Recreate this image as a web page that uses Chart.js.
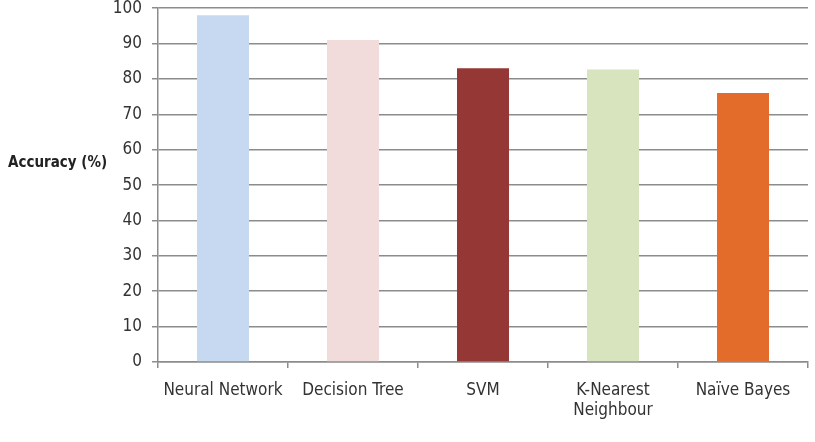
<!DOCTYPE html>
<html>
<head>
<meta charset="utf-8">
<script src="https://cdn.jsdelivr.net/npm/chart.js@4"></script>
<style>
  html, body { margin: 0; padding: 0; background: #fff; overflow: hidden; }
  #wrap { width: 815px; height: 442px; overflow: hidden; position: relative; }
  #accChart { position: absolute; left: 0; top: -12px; }
</style>
</head>
<body>
<div id="wrap"><canvas id="accChart" width="815" height="454"></canvas></div>
<script>
const categories = ['Neural Network', 'Decision Tree', 'SVM', ['K-Nearest', 'Neighbour'], 'Naïve Bayes'];
const accuracy = [98, 91, 83, 82.7, 76];
const barColors = ['#c6d9f1', '#f2dcdb', '#953735', '#d7e4bd', '#e46c2a'];
const yTicks = [0, 10, 20, 30, 40, 50, 60, 70, 80, 90, 100];

const fontFamily = '"Liberation Sans Narrow", "DejaVu Sans Condensed", "Open Sans", sans-serif';

// horizontal y-axis title on the left, like the original
const sideLabel = {
    id: 'sideLabel',
    afterDraw(chart) {
        const ctx = chart.ctx;
        const area = chart.chartArea;
        ctx.save();
        ctx.font = 'bold 15px ' + fontFamily;
        ctx.fillStyle = '#222';
        ctx.textBaseline = 'middle';
        ctx.textAlign = 'left';
        ctx.fillText('Accuracy (%)', 8, area.top + (area.bottom - area.top) * 0.438);
        ctx.restore();
    }
};

new Chart(document.getElementById('accChart'), {
    type: 'bar',
    data: {
        labels: categories,
        datasets: [{
            data: accuracy,
            backgroundColor: barColors,
            borderWidth: 0,
            categoryPercentage: 1,
            barPercentage: 0.4
        }]
    },
    options: {
        responsive: false,
        animation: false,
        layout: { padding: { top: 7, right: 7, left: 0, bottom: 0 } },
        plugins: {
            legend: { display: false },
            tooltip: { enabled: false }
        },
        scales: {
            x: {
                offset: true,
                grid: { drawOnChartArea: false, tickLength: 6, color: '#8c8c8c', lineWidth: 1.5 },
                border: { color: '#8c8c8c', width: 1.5 },
                ticks: {
                    color: '#333',
                    font: { family: fontFamily, size: 17 },
                    padding: 12,
                    maxRotation: 0
                },
                afterFit(scale) { scale.height = 80; }
            },
            y: {
                min: 0,
                max: 100,
                afterBuildTicks(scale) { scale.ticks = yTicks.map(v => ({ value: v })); },
                grid: { color: '#8c8c8c', lineWidth: 1.5, tickLength: 6 },
                border: { color: '#8c8c8c', width: 1.5 },
                ticks: {
                    color: '#333',
                    font: { family: fontFamily, size: 17 },
                    padding: 10
                },
                afterFit(scale) { scale.width = 158; }
            }
        }
    },
    plugins: [sideLabel]
});
</script>
</body>
</html>
